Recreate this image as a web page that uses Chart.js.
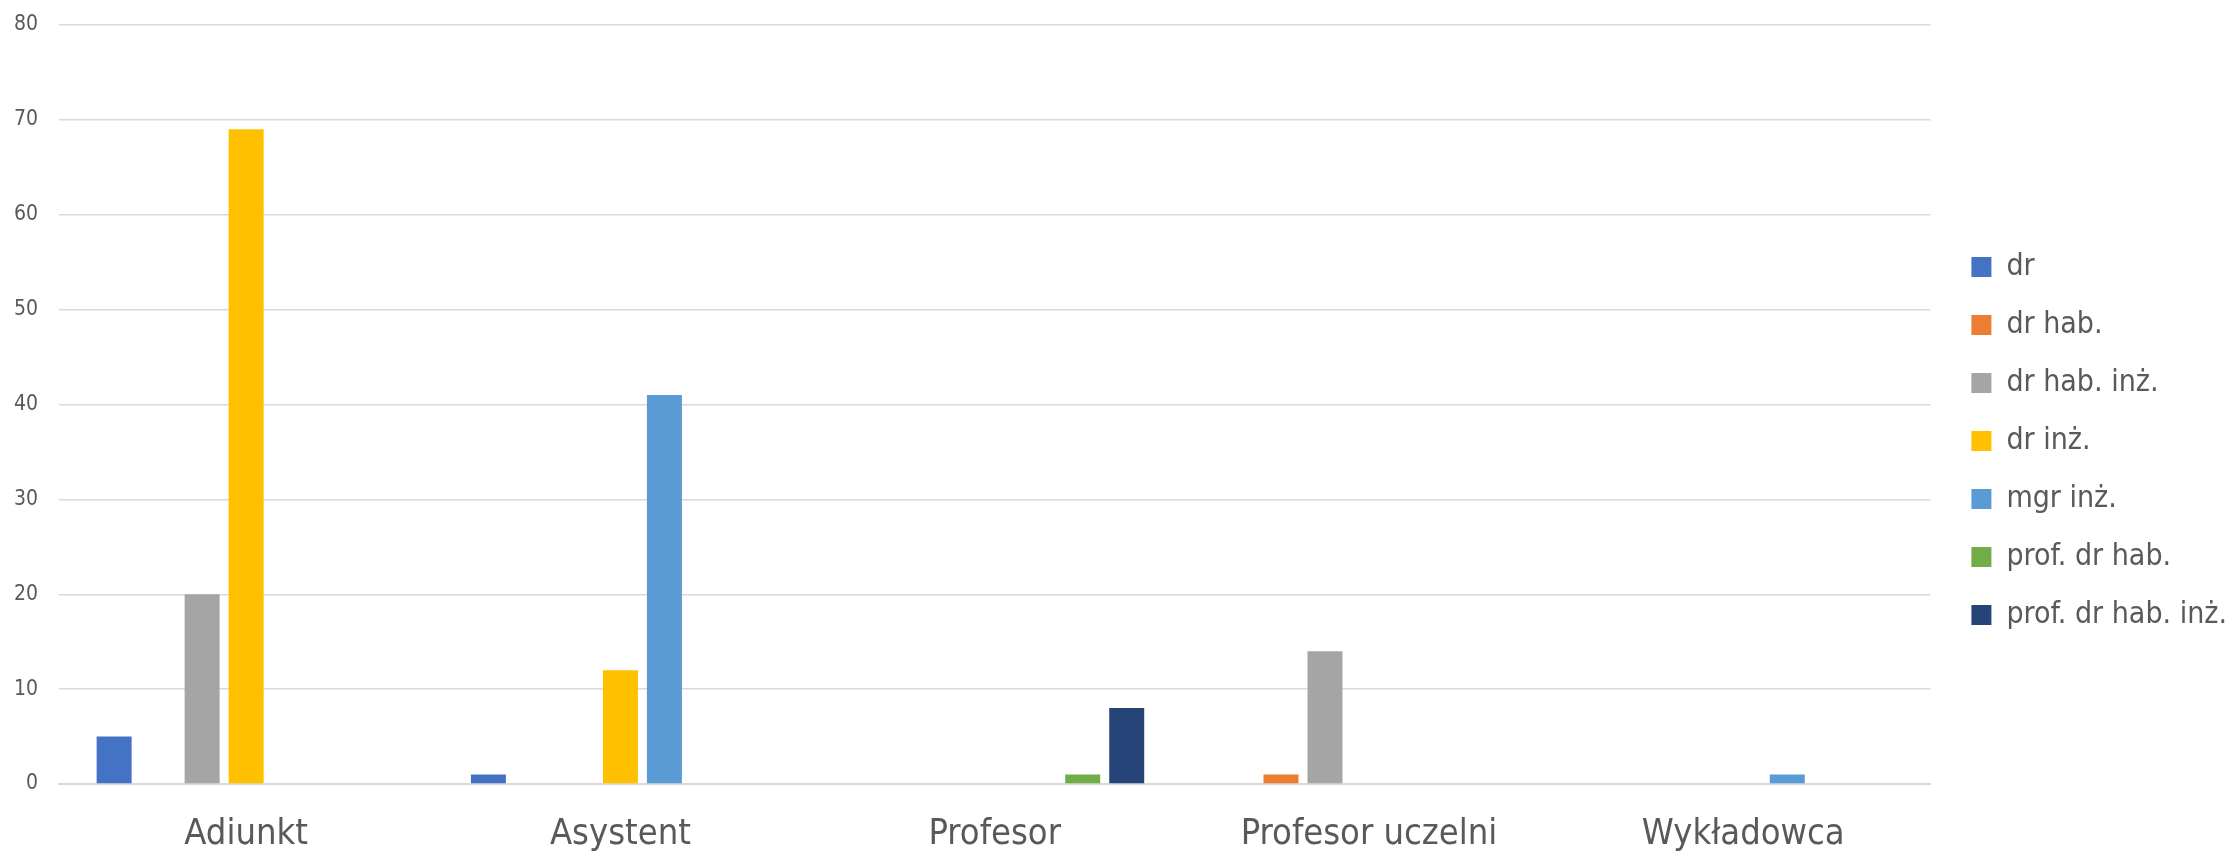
<!DOCTYPE html>
<html lang="pl">
<head>
<meta charset="utf-8">
<title>Stanowiska i stopnie</title>
<script src="https://cdn.jsdelivr.net/npm/chart.js@4/dist/chart.umd.min.js"></script>
<style>
  html, body { margin: 0; padding: 0; background: #ffffff; }
  #wrap { width: 2229px; height: 857px; position: relative; }
</style>
</head>
<body>
<div id="wrap"><canvas id="chart" width="2229" height="857"></canvas></div>
<script>
// Stanowiska (kategorie osi X)
const categories = ['Adiunkt', 'Asystent', 'Profesor', 'Profesor uczelni', 'Wykładowca'];

// Liczba osób wg stopnia/tytułu (null = brak)
const dr            = [5,    1,    null, null, null];
const drHab         = [null, null, null, 1,    null];
const drHabInz      = [20,   null, null, 14,   null];
const drInz         = [69,   12,   null, null, null];
const mgrInz        = [null, 41,   null, null, 1];
const profDrHab     = [null, null, 1,    null, null];
const profDrHabInz  = [null, null, 8,    null, null];

const seriesNames = ['dr', 'dr hab.', 'dr hab. inż.', 'dr inż.', 'mgr inż.', 'prof. dr hab.', 'prof. dr hab. inż.'];
const seriesValues = [dr, drHab, drHabInz, drInz, mgrInz, profDrHab, profDrHabInz];
const seriesColors = ['#4472C4', '#ED7D31', '#A5A5A5', '#FFC000', '#5B9BD5', '#70AD47', '#264478'];

// Oś Y
const yTicks = [0, 10, 20, 30, 40, 50, 60, 70, 80];

const FONT = "'Liberation Sans Narrow', 'Arial Narrow', 'DejaVu Sans Condensed', sans-serif";
const TEXT = '#595959';

const datasets = seriesNames.map((name, i) => ({
  label: name,
  data: seriesValues[i],
  backgroundColor: seriesColors[i],
  borderWidth: 0,
  categoryPercentage: 0.823,
  barPercentage: 0.795
}));

new Chart(document.getElementById('chart'), {
  type: 'bar',
  data: { labels: categories, datasets },
  options: {
    responsive: false,
    animation: false,
    layout: { padding: { left: 0, right: -8, top: 25, bottom: 0 } },
    plugins: {
      tooltip: { enabled: false },
      legend: {
        position: 'right',
        align: 'center',
        labels: {
          boxWidth: 20,
          boxHeight: 20,
          padding: 28,
          color: TEXT,
          font: { family: FONT, size: 30 }
        }
      }
    },
    scales: {
      x: {
        grid: { display: false, drawTicks: false },
        border: { display: true, color: '#D9D9D9', width: 2 },
        ticks: { color: TEXT, font: { family: FONT, size: 36 }, padding: 29, maxRotation: 0 },
        afterFit: scale => { scale.height = 73; }
      },
      y: {
        min: yTicks[0],
        max: yTicks[yTicks.length - 1],
        afterBuildTicks: scale => { scale.ticks = yTicks.map(v => ({ value: v })); },
        grid: { color: '#D9D9D9', lineWidth: 1.5, drawTicks: false },
        border: { display: false },
        ticks: { color: TEXT, font: { family: FONT, size: 21 }, padding: 21 },
        afterFit: scale => {
          scale.width = 59;
          scale.paddingTop = 0;
          scale.paddingBottom = 0;
        }
      },
      // spacer between the plot area and the legend
      gap: {
        type: 'linear',
        position: 'right',
        display: true,
        grid: { display: false, drawTicks: false },
        border: { display: false },
        ticks: { display: false },
        afterFit: scale => { scale.width = 13; }
      }
    }
  }
});
</script>
</body>
</html>
